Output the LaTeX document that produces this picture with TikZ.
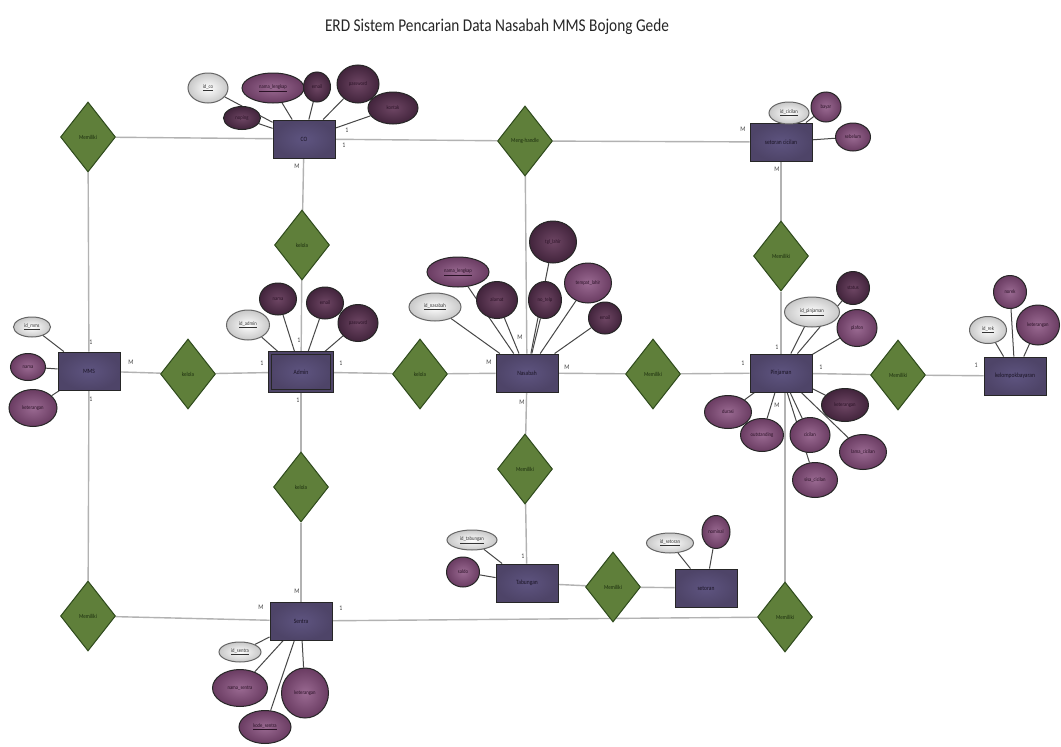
\documentclass[tikz,border=0pt]{standalone}
\usepackage{fontspec}
\setmainfont{Carlito}[FakeStretch=0.85]
\usetikzlibrary{shapes.geometric}
\definecolor{entFill}{HTML}{4E4468}
\definecolor{entIn}{HTML}{5E5480}
\definecolor{entText}{HTML}{1A1424}
\definecolor{relFill}{HTML}{5F7F3A}
\definecolor{relBorder}{HTML}{2E4A1C}
\definecolor{relText}{HTML}{1C2E0E}
\definecolor{pinkIn}{HTML}{9A6A92}
\definecolor{pinkOut}{HTML}{6A3C62}
\definecolor{darkIn}{HTML}{6E4664}
\definecolor{darkOut}{HTML}{42243C}
\definecolor{attText}{HTML}{2A1226}
\definecolor{keyOut}{HTML}{C8C8C8}
\pgfdeclarelayer{bg}
\pgfsetlayers{bg,main}
\tikzset{
  ent/.style={rectangle, draw=black!85, line width=0.9pt, inner color=entIn, outer color=entFill,
    minimum width=62pt, minimum height=38pt, inner sep=1pt, font=\fontsize{6.5}{7.5}\selectfont, text=entText},
  attd/.style 2 args={ellipse, draw=black!85, line width=1pt, inner color=darkIn, outer color=darkOut,
    minimum width=#1pt, minimum height=#2pt, inner sep=0pt, font=\fontsize{5.5}{6}\selectfont, text=attText},
  attp/.style 2 args={ellipse, draw=black!85, line width=1pt, inner color=pinkIn, outer color=pinkOut,
    minimum width=#1pt, minimum height=#2pt, inner sep=0pt, font=\fontsize{5.5}{6}\selectfont, text=attText},
  keya/.style 2 args={ellipse, draw=black!60, line width=1pt, inner color=white, outer color=keyOut,
    minimum width=#1pt, minimum height=#2pt, inner sep=0pt, font=\fontsize{5.5}{6}\selectfont, text=black!80},
  rel/.style={diamond, draw=relBorder, line width=1pt, fill=relFill, minimum width=55pt, minimum height=70pt,
    inner sep=0pt, font=\fontsize{6}{7}\selectfont, text=relText},
  card/.style={font=\fontsize{7}{8}\selectfont, text=black!75, inner sep=0pt},
  rline/.style={draw=gray!60, line width=1.4pt},
  aline/.style={draw=black!72, line width=1pt}
}
\begin{document}
\begin{tikzpicture}[x=1pt,y=-1pt]
\begin{pgfonlayer}{bg}
\fill[white] (0,0) rectangle (1061,747);
\end{pgfonlayer}
\useasboundingbox (0,0) rectangle (1061,747);
\node[font=\fontsize{18}{21}\selectfont, text=black!85] (title) at (497,27) {ERD Sistem Pencarian Data Nasabah MMS Bojong Gede};
% entities
\node[ent] (co) at (304,139) {CO};
\node[ent] (sc) at (781,142) {setoran cicilan};
\node[ent] (mms) at (89,371) {MMS};
\node[ent, double=entFill, double distance=2pt] (adm) at (301,372) {Admin};
\node[ent] (nas) at (527,373) {Nasabah};
\node[ent] (pin) at (781,373) {Pinjaman};
\node[ent] (kel) at (1015,376) {kelompokbayaran};
\node[ent] (sen) at (301,621) {Sentra};
\node[ent] (tab) at (527,583) {Tabungan};
\node[ent] (set) at (706,588) {setoran};
% relationships
\node[rel] (r1) at (88,137) {Memiliki};
\node[rel] (r2) at (525,141) {Meng-handle};
\node[rel] (r3) at (781,256) {Memiliki};
\node[rel] (r4) at (302,245) {kelola};
\node[rel] (r5) at (188,374) {kelola};
\node[rel] (r6) at (420,374) {kelola};
\node[rel] (r7) at (653,374) {Memiliki};
\node[rel] (r8) at (898,375) {Memiliki};
\node[rel] (r9) at (301,487) {kelola};
\node[rel] (r10) at (525,469) {Memiliki};
\node[rel] (r11) at (613,587) {Memiliki};
\node[rel] (r12) at (88,616) {Memiliki};
\node[rel] (r13) at (785,617) {Memiliki};
% attributes CO
\node[keya={40}{30}] (coid) at (208,88) {\underline{id\_co}};
\node[attd={37}{23}] (cono) at (242,118) {noping};
\node[attp={62}{30}] (conl) at (273,88) {\underline{nama\_lengkap}};
\node[attd={27}{30}] (coem) at (317,87) {email};
\node[attd={42}{38}] (copw) at (358,84) {password};
\node[attd={50}{32}] (coko) at (393,108) {kontak};
% setoran cicilan
\node[keya={40}{22}] (scid) at (789,113) {\underline{id\_cicilan}};
\node[attp={30}{30}] (scby) at (826,107) {bayar};
\node[attp={35}{28}] (scsb) at (853,137) {sebelum};
% MMS
\node[keya={37}{20}] (mmid) at (32,327) {\underline{id\_mms}};
\node[attp={35}{27}] (mmna) at (28,367) {nama};
\node[attp={48}{37}] (mmke) at (33,408) {keterangan};
% Admin
\node[keya={43}{30}] (adid) at (248,325) {\underline{id\_admin}};
\node[attd={37}{32}] (adna) at (278,299) {nama};
\node[attd={37}{32}] (adem) at (325,303) {email};
\node[attd={40}{37}] (adpw) at (358,323) {password};
% Nasabah
\node[attp={62}{30}] (nanl) at (458,272) {\underline{nama\_lengkap}};
\node[keya={52}{28}] (naid) at (435,307) {\underline{id\_nasabah}};
\node[attd={41}{37}] (naal) at (497,300) {alamat};
\node[attd={47}{42}] (natl) at (553,242) {tgl\_lahir};
\node[attd={33}{37}] (nate) at (545,300) {no\_telp};
\node[attp={47}{40}] (natp) at (588,283) {tempat\_lahir};
\node[attd={33}{32}] (naem) at (605,318) {email};
% Pinjaman
\node[attd={33}{33}] (pist) at (853,288) {status};
\node[keya={55}{30}] (piid) at (812,312) {\underline{id\_pinjaman}};
\node[attp={40}{37}] (pipl) at (857,328) {plafon};
\node[attp={47}{33}] (pidu) at (728,412) {durasi};
\node[attp={43}{33}] (piou) at (762,435) {outstanding};
\node[attd={47}{33}] (pike) at (845,405) {keterangan};
\node[attp={40}{35}] (pici) at (810,435) {cicilan};
\node[attp={47}{35}] (pila) at (863,452) {lama\_cicilan};
\node[attp={45}{35}] (pisi) at (815,480) {sisa\_cicilan};
% kelompokbayaran
\node[attp={33}{33}] (keno) at (1010,292) {norek};
\node[keya={37}{27}] (keid) at (988,330) {\underline{id\_rek}};
\node[attp={43}{40}] (kekt) at (1038,325) {keterangan};
% Sentra
\node[keya={42}{20}] (seid) at (240,652) {\underline{id\_sentra}};
\node[attp={55}{37}] (sena) at (240,688) {nama\_sentra};
\node[attp={47}{50}] (sekt) at (305,693) {keterangan};
\node[attp={52}{33}] (seko) at (265,727) {\underline{kode\_sentra}};
% Tabungan
\node[keya={50}{20}] (taid) at (472,540) {\underline{id\_tabungan}};
\node[attp={33}{30}] (tasa) at (463,572) {saldo};
% setoran
\node[keya={47}{20}] (stid) at (670,543) {\underline{id\_setoran}};
\node[attp={28}{33}] (stno) at (716,532) {nominal};
% cardinalities
\node[card] (c1) at (347,130) {1};
\node[card] (c2) at (344,145) {1};
\node[card] (c3) at (297,166) {M};
\node[card] (c4) at (743,129) {M};
\node[card] (c5) at (777,169) {M};
\node[card] (c6) at (91,342) {1};
\node[card] (c7) at (131,362) {M};
\node[card] (c8) at (91,399) {1};
\node[card] (c9) at (299,340) {1};
\node[card] (c10) at (262,363) {1};
\node[card] (c11) at (341,363) {1};
\node[card] (c12) at (298,400) {1};
\node[card] (c13) at (520,337) {M};
\node[card] (c14) at (489,362) {M};
\node[card] (c15) at (567,367) {M};
\node[card] (c16) at (522,402) {M};
\node[card] (c17) at (777,347) {1};
\node[card] (c18) at (743,363) {1};
\node[card] (c19) at (821,367) {1};
\node[card] (c20) at (777,405) {M};
\node[card] (c21) at (976,365) {1};
\node[card] (c22) at (523,556) {1};
\node[card] (c23) at (297,591) {M};
\node[card] (c24) at (261,607) {M};
\node[card] (c25) at (341,608) {1};
\begin{pgfonlayer}{bg}
% relationship lines
\draw[rline] (r1) -- (co);
\draw[rline] (co) -- (r2);
\draw[rline] (r2) -- (sc);
\draw[rline] (r1) -- (mms);
\draw[rline] (mms) -- (r12);
\draw[rline] (r12) -- (sen);
\draw[rline] (sen) -- (r13);
\draw[rline] (r13) -- (r13 |- pin.south);
\draw[rline] (co) -- (r4);
\draw[rline] (r4) -- (adm);
\draw[rline] (adm) -- (r9);
\draw[rline] (r9) -- (sen);
\draw[rline] (mms) -- (r5);
\draw[rline] (r5) -- (adm);
\draw[rline] (adm) -- (r6);
\draw[rline] (r6) -- (nas);
\draw[rline] (nas) -- (r7);
\draw[rline] (r7) -- (pin);
\draw[rline] (pin) -- (r8);
\draw[rline] (r8) -- (kel);
\draw[rline] (r2) -- (nas);
\draw[rline] (nas) -- (r10);
\draw[rline] (r10) -- (tab);
\draw[rline] (tab) -- (r11);
\draw[rline] (r11) -- (set);
\draw[rline] (sc) -- (r3);
\draw[rline] (r3) -- (pin);
% attribute lines
\foreach \a in {coid,cono,conl,coem,copw,coko} \draw[aline] (\a) -- (co);
\foreach \a in {scid,scby,scsb} \draw[aline] (\a) -- (sc);
\foreach \a in {mmid,mmna,mmke} \draw[aline] (\a) -- (mms);
\foreach \a in {adid,adna,adem,adpw} \draw[aline] (\a) -- (adm);
\foreach \a in {nanl,naid,naal,natl,nate,natp,naem} \draw[aline] (\a) -- (nas);
\foreach \a in {pist,piid,pipl,pidu,piou,pike,pici,pila,pisi} \draw[aline] (\a) -- (pin);
\foreach \a in {keno,keid,kekt} \draw[aline] (\a) -- (kel);
\foreach \a in {seid,sena,sekt,seko} \draw[aline] (\a) -- (sen);
\foreach \a in {taid,tasa} \draw[aline] (\a) -- (tab);
\foreach \a in {stid,stno} \draw[aline] (\a) -- (set);
\end{pgfonlayer}
\end{tikzpicture}
\end{document}
